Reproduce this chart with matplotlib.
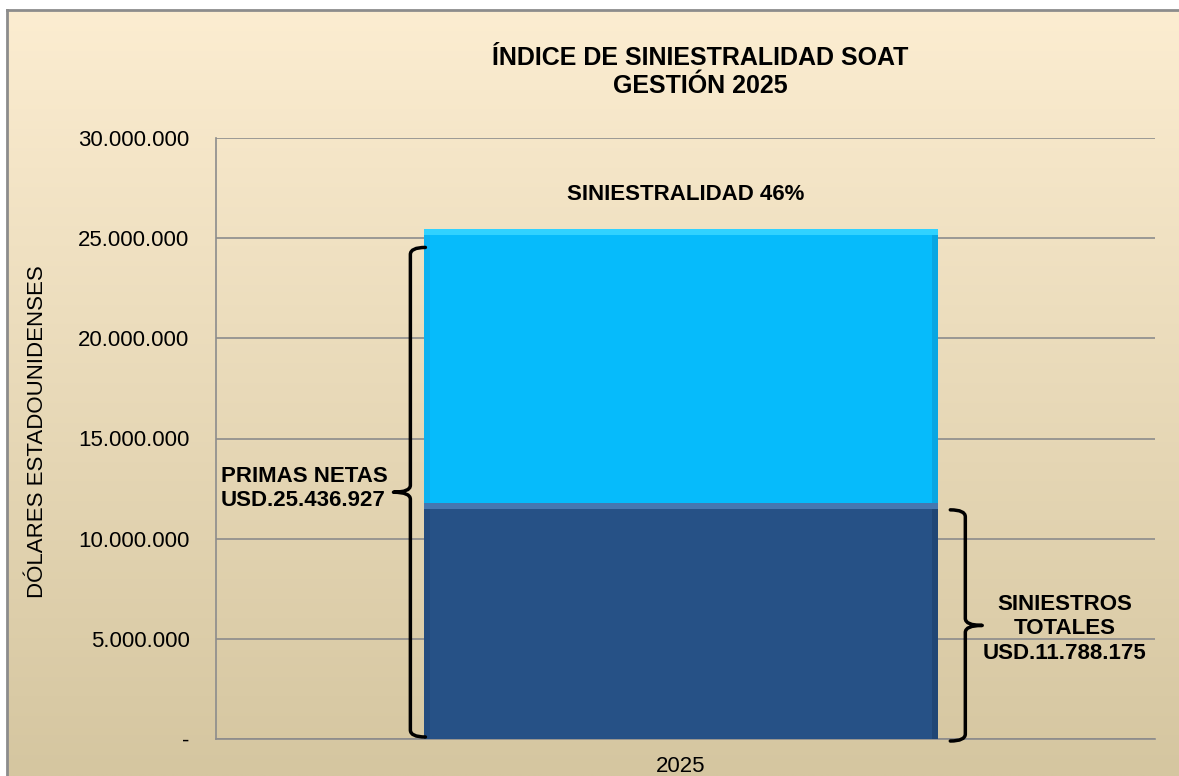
import numpy as np
import matplotlib
matplotlib.use("Agg")
import matplotlib.pyplot as plt
from matplotlib.path import Path
from matplotlib.patches import PathPatch

plt.rcParams['font.family'] = ['Liberation Sans', 'DejaVu Sans']

# data
categories = ['2025']
primas_netas = [25436927]
siniestros = [11788175]
y_ticks = [0, 5000000, 10000000, 15000000, 20000000, 25000000, 30000000]
y_tick_labels = ['-', '5.000.000', '10.000.000', '15.000.000', '20.000.000', '25.000.000', '30.000.000']

W, H = 1179, 776
fig = plt.figure(figsize=(W / 100, H / 100), dpi=100)
fig.patch.set_facecolor('white')

# chart area background (gradient + frame)
bg = fig.add_axes([7 / W, 0, 1 - 7 / W, 1 - 10 / H], zorder=0)
top_c = np.array([252, 237, 209]) / 255
bot_c = np.array([213, 198, 160]) / 255
t = np.linspace(0, 1, 256)[:, None]
grad = top_c * (1 - t[..., None]) + bot_c * t[..., None]
grad = np.repeat(grad, 4, axis=1)
bg.imshow(grad, aspect='auto', extent=[0, 1, 0, 1], origin='upper')
bg.set_xlim(0, 1)
bg.set_ylim(0, 1)
bg.set_xticks([])
bg.set_yticks([])
for s in ['right', 'bottom']:
    bg.spines[s].set_visible(False)
for s in ['left', 'top']:
    bg.spines[s].set_color('#8c8c8c')
    bg.spines[s].set_linewidth(2)

ax = fig.add_axes([216 / W, 37 / H, 939 / W, 601 / H], zorder=1)
ax.patch.set_alpha(0)

grid_c = '#8c8c8c'
ax.set_ylim(0, 30000000)
ax.set_xlim(-0.495, 0.505)
ax.set_yticks(y_ticks)
ax.set_yticklabels(y_tick_labels, fontsize=16)
ax.set_xticks([0])
ax.set_xticklabels(categories, fontsize=16)
ax.tick_params(axis='both', length=0, pad=19)
ax.tick_params(axis='x', pad=12)
ax.yaxis.grid(True, color=grid_c, linewidth=1.2)
ax.set_axisbelow(True)
for s in ['right', 'top']:
    ax.spines[s].set_visible(False)
for s in ['left', 'bottom']:
    ax.spines[s].set_color(grid_c)
    ax.spines[s].set_linewidth(1.2)

bw = 0.547
x = np.arange(len(categories))
light = '#06bbfb'
dark = '#265186'

# primas (full) behind, siniestros in front
ax.bar(x, primas_netas, width=bw, color=light, zorder=3)
ax.bar(x, siniestros, width=bw, color=dark, zorder=4)

# bevel effects
bev = 300000
ax.bar(x, bev, bottom=np.array(primas_netas) - bev, width=bw, color='#30d2ff', zorder=5)
ax.bar(x, bev, bottom=np.array(siniestros) - bev, width=bw, color='#4677b0', zorder=5)
side = 0.006
for off, col_l, col_d in [(-bw / 2 + side / 2, '#0cb2f0', '#234b7e'), (bw / 2 - side / 2, '#08a6e2', '#204675')]:
    ax.bar(x + off, np.array(primas_netas) - np.array(siniestros) - bev, bottom=siniestros, width=side, color=col_l, zorder=5)
    ax.bar(x + off, np.array(siniestros) - bev, width=side, color=col_d, zorder=5)


def brace(ax, xv, y0, y1, direction, hook=0.016, tip=0.018, ry=350000):
    # curly bracket; direction=+1 opens to the left (tip points right)
    ym = (y0 + y1) / 2
    d = direction
    xh = xv - d * hook
    xt = xv + d * tip
    verts = [
        (xh, y1), (xv, y1), (xv, y1 - ry),
        (xv, ym + ry),
        (xv, ym), (xt, ym),
        (xv, ym), (xv, ym - ry),
        (xv, y0 + ry),
        (xv, y0), (xh, y0),
    ]
    codes = [Path.MOVETO, Path.CURVE3, Path.CURVE3,
             Path.LINETO,
             Path.CURVE3, Path.CURVE3,
             Path.CURVE3, Path.CURVE3,
             Path.LINETO,
             Path.CURVE3, Path.CURVE3]
    p = Path(verts, codes)
    ax.add_patch(PathPatch(p, facecolor='none', edgecolor='black', lw=2.5,
                           capstyle='round', joinstyle='round', zorder=6, clip_on=False))


brace(ax, -0.288, 100000, primas_netas[0] - 900000, -1)
brace(ax, 0.303, -100000, siniestros[0] - 350000, 1)

ratio = siniestros[0] / primas_netas[0] * 100
ax.text(0.005, 27200000, 'SINIESTRALIDAD %d%%' % round(ratio), ha='center', va='center',
        fontsize=16, fontweight='bold', zorder=7)


def fmt(v):
    return '{:,}'.format(v).replace(',', '.')


ax.text(-0.490, 12500000, 'PRIMAS NETAS\nUSD.' + fmt(primas_netas[0]), ha='left', va='center',
        fontsize=16, fontweight='bold', linespacing=1.15, zorder=7)
ax.text(0.409, 5500000, 'SINIESTROS\nTOTALES\nUSD.' + fmt(siniestros[0]), ha='center', va='center',
        fontsize=16, fontweight='bold', linespacing=1.22, zorder=7, clip_on=False)

fig.text(700 / W, 1 - 72 / H, 'ÍNDICE DE SINIESTRALIDAD SOAT\nGESTIÓN 2025', ha='center', va='center',
         fontsize=18, fontweight='bold', linespacing=1.2)
fig.text(38 / W, 1 - 432 / H, 'DÓLARES ESTADOUNIDENSES', rotation=90, ha='center', va='center', fontsize=16)

fig.savefig('out.png', dpi=100)
